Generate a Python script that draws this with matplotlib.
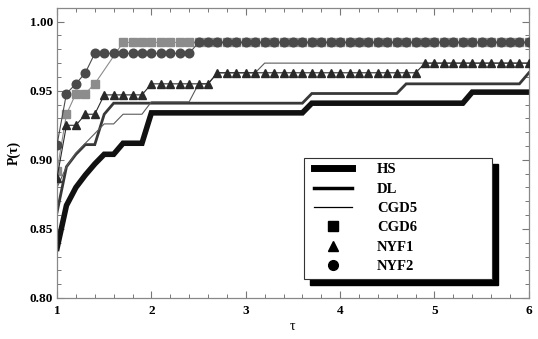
import numpy as np
import matplotlib
matplotlib.use('Agg')
import matplotlib.pyplot as plt
from matplotlib.patches import Rectangle
from matplotlib.ticker import MultipleLocator
from matplotlib.lines import Line2D

plt.rcParams['font.family'] = ['Liberation Serif', 'DejaVu Serif']

# ---- data ----
tau_grid = [1.0, 1.1, 1.2, 1.3, 1.4, 1.5, 1.6, 1.7, 1.8, 1.9,
            2.0, 2.1, 2.2, 2.3, 2.4, 2.5, 2.6, 2.7, 2.8, 2.9,
            3.0, 3.1, 3.2, 3.3, 3.4, 3.5, 3.6, 3.7, 3.8, 3.9,
            4.0, 4.1, 4.2, 4.3, 4.4, 4.5, 4.6, 4.7, 4.8, 4.9,
            5.0, 5.1, 5.2, 5.3, 5.4, 5.5, 5.6, 5.7, 5.8, 5.9, 6.0]

hs_tau = [1.0, 1.1, 1.2, 1.3, 1.4, 1.5, 1.6, 1.7, 1.9, 2.0, 3.6, 3.7, 5.3, 5.4, 6.0]
hs_val = [0.836, 0.867, 0.880, 0.889, 0.897, 0.904, 0.904, 0.912, 0.912, 0.934,
          0.934, 0.941, 0.941, 0.949, 0.949]

dl_tau = [1.0, 1.1, 1.2, 1.3, 1.4, 1.5, 1.6, 3.6, 3.7, 4.6, 4.7, 5.9, 6.0]
dl_val = [0.862, 0.895, 0.904, 0.911, 0.911, 0.933, 0.941, 0.941, 0.948, 0.948,
          0.955, 0.955, 0.963]

cgd5_tau = [1.0, 1.1, 1.2, 1.3, 1.4, 1.5, 1.6, 1.7, 1.9, 2.0, 2.4, 2.5, 2.6, 2.7,
            3.1, 3.2, 6.0]
cgd5_val = [0.880, 0.895, 0.905, 0.912, 0.919, 0.926, 0.926, 0.933, 0.933, 0.942,
            0.942, 0.955, 0.955, 0.963, 0.963, 0.970, 0.970]

cgd6_tau = [1.0, 1.1, 1.2, 1.3, 1.4, 1.7, 1.8, 1.9,
            2.0, 2.1, 2.2, 2.3, 2.4, 2.5, 2.6, 2.7, 2.8, 2.9,
            3.0, 3.1, 3.2, 3.3, 3.4, 3.5, 3.6, 3.7, 3.8, 3.9,
            4.0, 4.1, 4.2, 4.3, 4.4, 4.5, 4.6, 4.7, 4.8, 4.9,
            5.0, 5.1, 5.2, 5.3, 5.4, 5.5, 5.6, 5.7, 5.8, 5.9, 6.0]
cgd6_val = [0.892, 0.933, 0.948, 0.948, 0.955, 0.985, 0.985, 0.985,
            0.985, 0.985, 0.985, 0.985, 0.985, 0.985, 0.985, 0.985, 0.985, 0.985,
            0.985, 0.985, 0.985, 0.985, 0.985, 0.985, 0.985, 0.985, 0.985, 0.985,
            0.985, 0.985, 0.985, 0.985, 0.985, 0.985, 0.985, 0.985, 0.985, 0.985,
            0.985, 0.985, 0.985, 0.985, 0.985, 0.985, 0.985, 0.985, 0.985, 0.985, 0.985]

nyf1_val = [0.887, 0.925, 0.925, 0.933, 0.933, 0.947, 0.947, 0.947, 0.947, 0.947,
            0.955, 0.955, 0.955, 0.955, 0.955, 0.955, 0.955, 0.963, 0.963, 0.963,
            0.963, 0.963, 0.963, 0.963, 0.963, 0.963, 0.963, 0.963, 0.963, 0.963,
            0.963, 0.963, 0.963, 0.963, 0.963, 0.963, 0.963, 0.963, 0.963, 0.970,
            0.970, 0.970, 0.970, 0.970, 0.970, 0.970, 0.970, 0.970, 0.970, 0.970, 0.970]

nyf2_val = [0.911, 0.948, 0.955, 0.963, 0.977, 0.977, 0.977, 0.977, 0.977, 0.977,
            0.977, 0.977, 0.977, 0.977, 0.977, 0.985, 0.985, 0.985, 0.985, 0.985,
            0.985, 0.985, 0.985, 0.985, 0.985, 0.985, 0.985, 0.985, 0.985, 0.985,
            0.985, 0.985, 0.985, 0.985, 0.985, 0.985, 0.985, 0.985, 0.985, 0.985,
            0.985, 0.985, 0.985, 0.985, 0.985, 0.985, 0.985, 0.985, 0.985, 0.985, 0.985]

labels = ['HS', 'DL', 'CGD5', 'CGD6', 'NYF1', 'NYF2']

# ---- figure ----
fig = plt.figure(figsize=(5.38, 3.39), dpi=100)
ax = fig.add_axes([0.106, 0.121, 0.877, 0.855])

ax.plot(hs_tau, hs_val, color='#111111', lw=4.0, solid_joinstyle='miter', zorder=2)
ax.plot(dl_tau, dl_val, color='#383838', lw=2.0, solid_joinstyle='miter', zorder=2)
ax.plot(cgd5_tau, cgd5_val, color='#5a5a5a', lw=0.8, zorder=2)
ax.plot(cgd6_tau, cgd6_val, color='#8c8c8c', lw=0.8, marker='s', ms=5.4,
        mec='#8c8c8c', mfc='#8c8c8c', zorder=3)
ax.plot(tau_grid, nyf1_val, color='#2a2a2a', lw=0.8, marker='^', ms=5.6,
        mec='#2a2a2a', mfc='#2a2a2a', zorder=3)
ax.plot(tau_grid, nyf2_val, color='#4a4a4a', lw=0.8, marker='o', ms=6.2,
        mec='#4a4a4a', mfc='#4a4a4a', zorder=4)

ax.set_xlim(1, 6)
ax.set_ylim(0.80, 1.0098)
ax.xaxis.set_major_locator(MultipleLocator(1))
ax.xaxis.set_minor_locator(MultipleLocator(0.2))
ax.yaxis.set_minor_locator(MultipleLocator(0.01))
ax.set_yticks([0.80, 0.85, 0.90, 0.95, 1.00])
ax.set_yticklabels(['0.80', '0.85', '0.90', '0.95', '1.00'])
ax.tick_params(which='both', direction='in', top=True, right=True,
               color='#777777', labelsize=9.5, pad=3)
ax.tick_params(axis='x', which='both', pad=5)
ax.tick_params(which='major', length=5, width=0.8)
ax.tick_params(which='minor', length=3, width=0.7)
for lab in ax.get_xticklabels() + ax.get_yticklabels():
    lab.set_fontweight('bold')
for sp in ax.spines.values():
    sp.set_color('#888888')
    sp.set_linewidth(0.9)

ax.set_xlabel('τ', fontsize=10, labelpad=2)
ax.set_ylabel('P(τ)', fontsize=10, fontweight='bold', labelpad=6)

# legend box with solid black shadow
bx, by, bw, bh = 0.523, 0.066, 0.398, 0.417
shadow = Rectangle((bx + 0.0127, by - 0.0207), bw, bh, transform=ax.transAxes,
                   facecolor='black', edgecolor='black', zorder=6, clip_on=False)
box = Rectangle((bx, by), bw, bh, transform=ax.transAxes,
                facecolor='white', edgecolor='#333333', lw=0.8, zorder=7, clip_on=False)
ax.add_patch(shadow)
ax.add_patch(box)

handles = [
    Line2D([], [], color='black', lw=5),
    Line2D([], [], color='black', lw=2.5),
    Line2D([], [], color='black', lw=0.9),
    Line2D([], [], color='black', ls='none', marker='s', ms=6.5),
    Line2D([], [], color='black', ls='none', marker='^', ms=6.5),
    Line2D([], [], color='black', ls='none', marker='o', ms=7),
]
leg = ax.legend(handles, labels, loc='upper left', bbox_to_anchor=(0.545, 0.465),
                frameon=False, handlelength=2.6, handletextpad=1.7,
                labelspacing=0.42, borderaxespad=0, borderpad=0,
                prop={'weight': 'bold', 'size': 10.5})
leg.set_zorder(8)

fig.savefig('out.png', dpi=100)
